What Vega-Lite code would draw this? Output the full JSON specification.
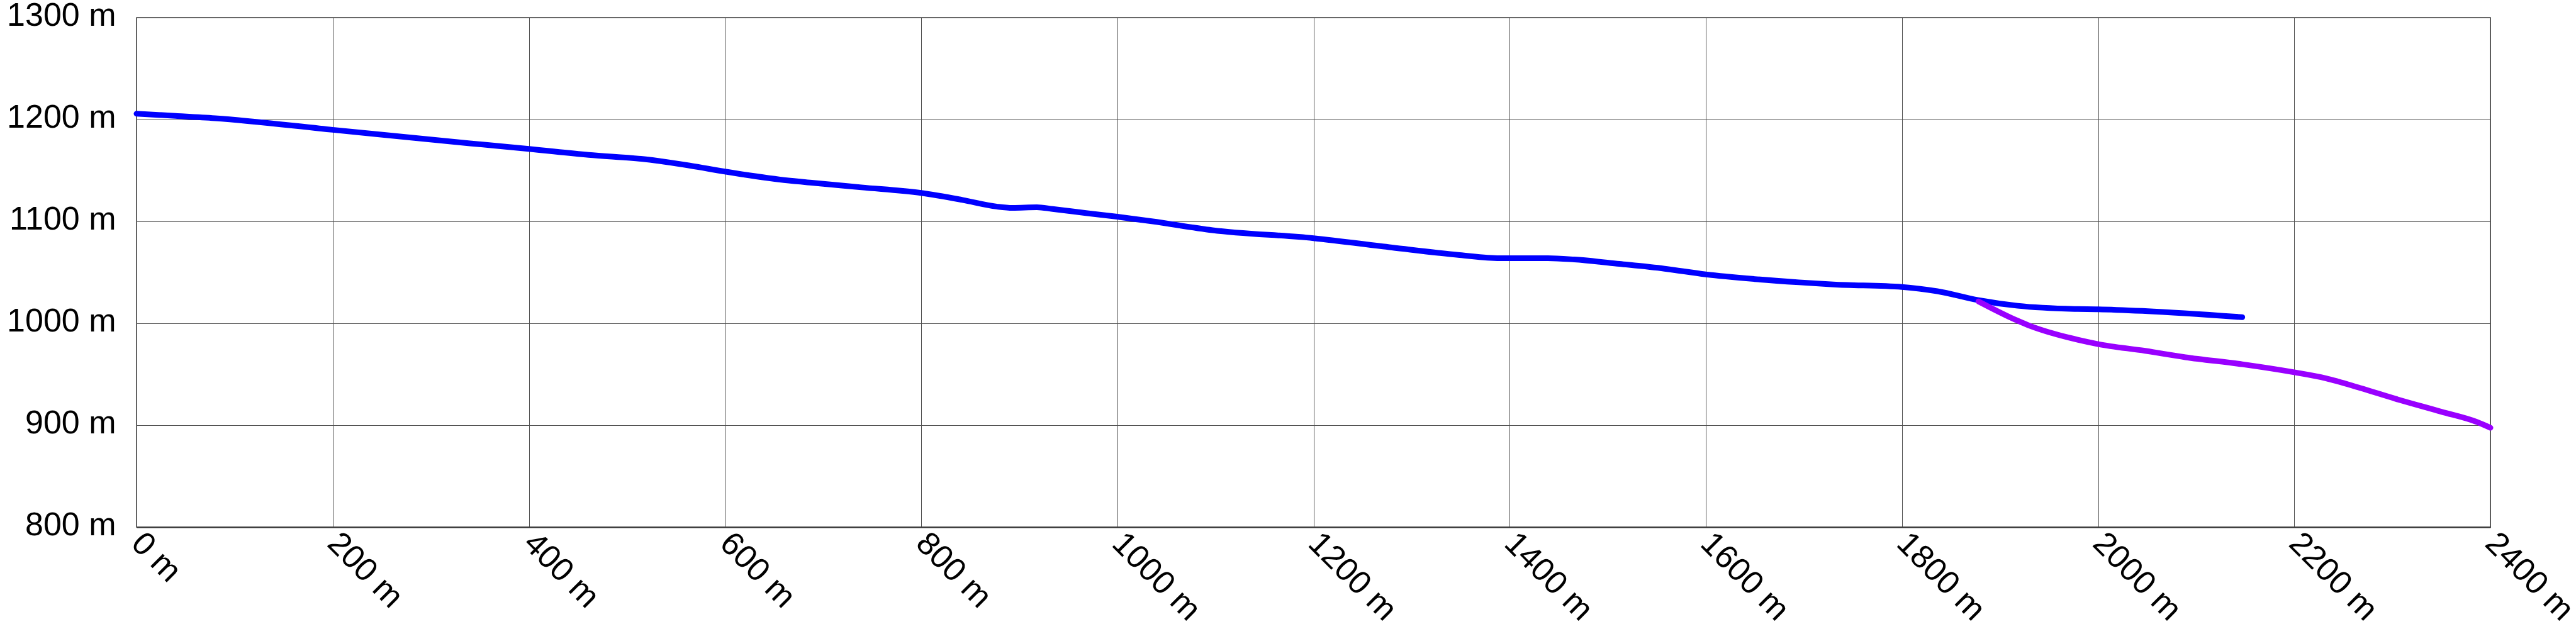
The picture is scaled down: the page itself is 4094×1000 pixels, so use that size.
{
  "$schema": "https://vega.github.io/schema/vega-lite/v6.json",
  "width": 3741,
  "height": 810,
  "autosize": {"type": "none"},
  "padding": {"left": 217, "top": 28, "right": 136, "bottom": 162},
  "background": "white",
  "view": {"stroke": "#444444", "strokeWidth": 1.5},
  "config": {
    "font": "Liberation Sans",
    "axis": {
      "labelFont": "Liberation Sans",
      "labelFontSize": 52,
      "labelColor": "#000000",
      "ticks": false,
      "tickSize": 0,
      "grid": true,
      "gridColor": "#505050",
      "gridWidth": 1,
      "domain": false,
      "title": null,
      "labelFlush": false,
      "labelOverlap": false
    }
  },
  "data": {
    "values": [
      {"series": "main", "d": 0, "e": 1205.7},
      {"series": "main", "d": 40, "e": 1203.6},
      {"series": "main", "d": 80, "e": 1201.3},
      {"series": "main", "d": 200, "e": 1189.9},
      {"series": "main", "d": 340, "e": 1176.6},
      {"series": "main", "d": 400, "e": 1171.2},
      {"series": "main", "d": 461, "e": 1165.3},
      {"series": "main", "d": 519, "e": 1160.9},
      {"series": "main", "d": 564, "e": 1154.8},
      {"series": "main", "d": 600, "e": 1148.9},
      {"series": "main", "d": 656, "e": 1141.1},
      {"series": "main", "d": 690, "e": 1137.8},
      {"series": "main", "d": 739, "e": 1133.4},
      {"series": "main", "d": 800, "e": 1127.9},
      {"series": "main", "d": 842, "e": 1121.1},
      {"series": "main", "d": 877, "e": 1114.6},
      {"series": "main", "d": 893, "e": 1113.3},
      {"series": "main", "d": 918, "e": 1113.9},
      {"series": "main", "d": 934, "e": 1112.2},
      {"series": "main", "d": 968, "e": 1108.2},
      {"series": "main", "d": 1000, "e": 1104.6},
      {"series": "main", "d": 1035, "e": 1100.2},
      {"series": "main", "d": 1097, "e": 1091.4},
      {"series": "main", "d": 1200, "e": 1083.5},
      {"series": "main", "d": 1280, "e": 1074.4},
      {"series": "main", "d": 1349, "e": 1067.0},
      {"series": "main", "d": 1390, "e": 1063.9},
      {"series": "main", "d": 1439, "e": 1063.9},
      {"series": "main", "d": 1466, "e": 1062.6},
      {"series": "main", "d": 1512, "e": 1058.3},
      {"series": "main", "d": 1558, "e": 1053.6},
      {"series": "main", "d": 1600, "e": 1048.0},
      {"series": "main", "d": 1650, "e": 1043.4},
      {"series": "main", "d": 1695, "e": 1040.2},
      {"series": "main", "d": 1730, "e": 1038.1},
      {"series": "main", "d": 1800, "e": 1035.6},
      {"series": "main", "d": 1836, "e": 1031.5},
      {"series": "main", "d": 1878, "e": 1022.7},
      {"series": "main", "d": 1918, "e": 1017.2},
      {"series": "main", "d": 1976, "e": 1014.1},
      {"series": "main", "d": 2000, "e": 1013.8},
      {"series": "main", "d": 2048, "e": 1012.0},
      {"series": "main", "d": 2147, "e": 1006.0},
      {"series": "branch", "d": 1878, "e": 1021.5},
      {"series": "branch", "d": 1918, "e": 1002.5},
      {"series": "branch", "d": 1931, "e": 997.3},
      {"series": "branch", "d": 1950, "e": 991.2},
      {"series": "branch", "d": 1970, "e": 986.0},
      {"series": "branch", "d": 2000, "e": 979.6},
      {"series": "branch", "d": 2048, "e": 973.0},
      {"series": "branch", "d": 2089, "e": 966.7},
      {"series": "branch", "d": 2147, "e": 959.8},
      {"series": "branch", "d": 2200, "e": 951.9},
      {"series": "branch", "d": 2232, "e": 946.1},
      {"series": "branch", "d": 2267, "e": 936.6},
      {"series": "branch", "d": 2303, "e": 926.0},
      {"series": "branch", "d": 2350, "e": 913.2},
      {"series": "branch", "d": 2386, "e": 903.2},
      {"series": "branch", "d": 2400, "e": 897.5}
    ]
  },
  "mark": {"type": "line", "strokeWidth": 9, "strokeCap": "round", "strokeJoin": "round", "interpolate": "monotone"},
  "encoding": {
    "x": {
      "field": "d",
      "type": "quantitative",
      "scale": {"domain": [0, 2400], "nice": false, "zero": false},
      "axis": {
        "values": [0, 200, 400, 600, 800, 1000, 1200, 1400, 1600, 1800, 2000, 2200, 2400],
        "labelExpr": "datum.value + ' m'",
        "labelAngle": 45,
        "labelAlign": "left",
        "labelBaseline": "middle",
        "labelPadding": 17,
        "domain": true,
        "domainColor": "#333333",
        "domainWidth": 2
      }
    },
    "y": {
      "field": "e",
      "type": "quantitative",
      "scale": {"domain": [800, 1300], "nice": false, "zero": false},
      "axis": {
        "values": [800, 900, 1000, 1100, 1200, 1300],
        "labelExpr": "datum.value + ' m'",
        "labelAlign": "right",
        "labelBaseline": "alphabetic",
        "labelOffset": 12,
        "labelPadding": 33
      }
    },
    "color": {
      "field": "series",
      "type": "nominal",
      "scale": {"domain": ["main", "branch"], "range": ["#0000ff", "#9900ff"]},
      "legend": null
    }
  }
}
